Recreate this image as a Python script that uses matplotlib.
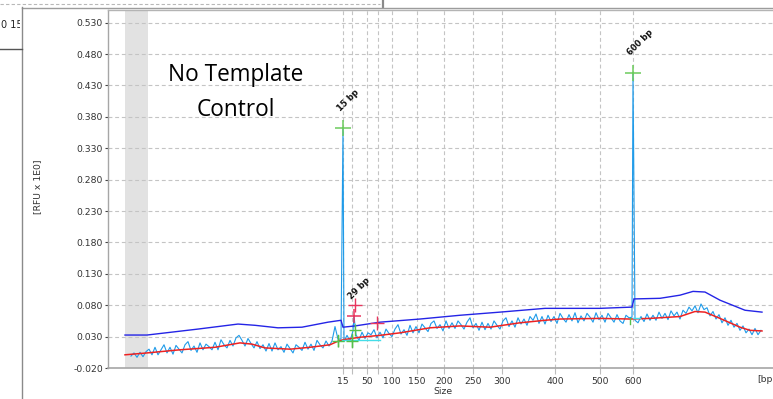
import matplotlib
matplotlib.use("Agg")
import matplotlib.pyplot as plt
import numpy as np
from matplotlib.lines import Line2D
from matplotlib.transforms import Bbox, TransformedBbox

# ---------------- data ----------------
# migration-time axis (arbitrary units); sizes are nonlinear labels on it
size_ticks = [15, 25, 50, 75, 100, 150, 200, 250, 300, 400, 500, 600]
size_tick_times = [235, 244, 259, 270, 284, 309, 336, 365, 394, 447, 492, 525]
size_tick_labels = ["15", "", "50", "", "100", "150", "200", "250", "300", "400", "500", "600"]

y_ticks = [-0.020, 0.030, 0.080, 0.130, 0.180, 0.230, 0.280, 0.330, 0.380, 0.430, 0.480, 0.530]

# raw signal (RFU), sampled every 3 time units starting at t = 23
signal_start = 23
signal_step = 3
signal_values = [
    -0.001, 0.004, -0.003, 0.005, -0.002, 0.006, 0.010, 0.001, 0.013, 0.001,
    0.009, 0.017, 0.004, 0.013, 0.002, 0.016, 0.010, 0.004, 0.017, 0.022,
    0.008, 0.015, 0.005, 0.020, 0.009, 0.018, 0.014, 0.009, 0.021, 0.009,
    0.025, 0.017, 0.012, 0.024, 0.015, 0.028, 0.032, 0.024, 0.015, 0.027,
    0.019, 0.012, 0.022, 0.011, 0.017, 0.007, 0.019, 0.007, 0.020, 0.009,
    0.014, 0.005, 0.018, 0.011, 0.004, 0.017, 0.013, 0.008, 0.021, 0.010,
    0.018, 0.008, 0.024, 0.017, 0.012, 0.023, 0.015, 0.023, 0.046, 0.026,
    0.026, 0.022, 0.032, 0.023, 0.039, 0.033, 0.024, 0.037, 0.027, 0.036,
    0.033, 0.041, 0.028, 0.037, 0.028, 0.042, 0.035, 0.030, 0.042, 0.049,
    0.034, 0.041, 0.032, 0.048, 0.036, 0.046, 0.036, 0.050, 0.044, 0.038,
    0.051, 0.055, 0.043, 0.049, 0.039, 0.055, 0.043, 0.052, 0.043, 0.055,
    0.049, 0.042, 0.053, 0.060, 0.044, 0.051, 0.040, 0.053, 0.041, 0.051,
    0.042, 0.055, 0.048, 0.042, 0.055, 0.060, 0.046, 0.055, 0.045, 0.060,
    0.050, 0.058, 0.048, 0.062, 0.056, 0.066, 0.051, 0.062, 0.050, 0.064,
    0.054, 0.062, 0.051, 0.067, 0.059, 0.053, 0.065, 0.055, 0.068, 0.052,
    0.063, 0.055, 0.067, 0.061, 0.053, 0.068, 0.057, 0.064, 0.053, 0.067,
    0.060, 0.053, 0.065, 0.055, 0.051, 0.064, 0.060, 0.061, 0.056, 0.052,
    0.062, 0.054, 0.066, 0.056, 0.064, 0.056, 0.069, 0.059, 0.067, 0.057,
    0.071, 0.063, 0.069, 0.058, 0.072, 0.067, 0.077, 0.071, 0.079, 0.068,
    0.082, 0.073, 0.076, 0.063, 0.070, 0.058, 0.065, 0.052, 0.060, 0.048,
    0.056, 0.045, 0.051, 0.040, 0.047, 0.036, 0.042, 0.033, 0.043, 0.033,
    0.040,
]

# called peaks
peak_labels = ["15 bp", "29 bp", "600 bp"]
peak_times = [235, 246, 525]
peak_heights = [0.362, 0.063, 0.4505]
peak_marker_colors = ["#6ccc5c", "#e8365e", "#6ccc5c"]

# other peak markers
minor_red_times = [247, 269]
minor_red_heights = [0.080, 0.0515]
minor_green_times = [230, 244, 247]
minor_green_heights = [0.023, 0.023, 0.040]

# smoothed baseline (red)
baseline_times = [17, 39, 72, 107, 132, 144, 157, 182, 202, 222, 229, 235, 252, 272,
                  292, 322, 352, 382, 412, 437, 452, 492, 522, 542, 572, 587, 597,
                  612, 632, 642, 654]
baseline_values = [0.001, 0.004, 0.009, 0.013, 0.020, 0.018, 0.012, 0.010, 0.013, 0.017,
                   0.022, 0.025, 0.029, 0.032, 0.036, 0.044, 0.047, 0.045, 0.052, 0.056,
                   0.058, 0.059, 0.058, 0.059, 0.062, 0.070, 0.069, 0.059, 0.045, 0.040,
                   0.039]

# detection threshold (dark blue)
threshold_times = [17, 39, 90, 130, 147, 170, 194, 220, 233, 235, 247, 272, 312, 352,
                   392, 437, 492, 524, 526, 552, 572, 585, 597, 612, 637, 654]
threshold_values = [0.0325, 0.0325, 0.042, 0.050, 0.048, 0.044, 0.045, 0.053, 0.056, 0.045,
                    0.047, 0.053, 0.058, 0.064, 0.069, 0.075, 0.075, 0.077, 0.090, 0.091,
                    0.096, 0.102, 0.101, 0.088, 0.072, 0.069]

# peak baselines (cyan) and boundaries (green)
cyan_segments = [((234, 272), (0.0245, 0.0245)), ((525, 532), (0.059, 0.059))]
green_segments = [((230, 230), (0.015, 0.032)), ((244, 244), (0.013, 0.034)),
                  ((522, 522), (0.050, 0.059))]

excluded_range = (17, 40)

# ---------------- figure ----------------
W, H = 773, 399
fig = plt.figure(figsize=(W / 100, H / 100), dpi=100)
ax = fig.add_axes([108 / W, 31 / H, 665 / W, 358 / H])

ax.set_xlim(0, 665)
ax.set_ylim(-0.020, 0.5502)

ax.axvspan(*excluded_range, color="#e2e2e2", lw=0, zorder=0)

grid_kw = dict(color="#c4c4c4", lw=0.8, ls=(0, (3.5, 2.5)), zorder=0.5)
for t in size_tick_times:
    ax.axvline(t, **grid_kw)
for yv in y_ticks[1:]:
    ax.axhline(yv, **grid_kw)

# signal with peaks merged
sig_t = signal_start + signal_step * np.arange(len(signal_values))
all_t = np.concatenate([sig_t, peak_times])
all_v = np.concatenate([signal_values, peak_heights])
order = np.argsort(all_t, kind="stable")
ax.plot(all_t[order], all_v[order], color="#1f9be9", lw=0.8, zorder=3)

ax.plot(baseline_times, baseline_values, color="#ee2222", lw=1.1, zorder=4)
ax.plot(threshold_times, threshold_values, color="#2424e6", lw=1.0, zorder=4)

for (xs, ys) in cyan_segments:
    ax.plot(xs, ys, color="#44dde8", lw=1.0, zorder=4)
for (xs, ys) in green_segments:
    ax.plot(xs, ys, color="#55c04a", lw=1.0, zorder=4)

ax.plot(minor_green_times, minor_green_heights, ls="none", marker="+", ms=9,
        mew=1.0, color="#55c04a", zorder=5)
ax.plot(minor_red_times, minor_red_heights, ls="none", marker="+", ms=10,
        mew=1.0, color="#e8365e", zorder=5)

for lab, t, h, c in zip(peak_labels, peak_times, peak_heights, peak_marker_colors):
    ax.plot([t], [h], ls="none", marker="+", ms=11 if c != "#e8365e" else 10,
            mew=1.1, color=c, zorder=6)
    ax.annotate(lab, xy=(t, h), xytext=(-0.5, 11.0), textcoords="offset points",
                rotation=45, rotation_mode="anchor", ha="left", va="bottom",
                fontsize=6.0, fontweight="bold", color="#111111", zorder=7)

ax.text(0.1925, 0.770, "No Template\nControl", transform=ax.transAxes,
        ha="center", va="center", fontsize=16.3, family="Open Sans",
        linespacing=1.62, color="black")

# axes styling
ax.set_xticks(size_tick_times)
ax.set_xticklabels(size_tick_labels)
ax.set_yticks(y_ticks)
ax.set_yticklabels([f"{v:.3f}" for v in y_ticks])
ax.tick_params(axis="x", length=4.3, width=0.8, color="#bdbdbd", pad=2,
               labelsize=6.7, labelcolor="#333333")
ax.tick_params(axis="y", length=2.2, width=0.8, color="#444444", pad=1.5,
               labelsize=6.7, labelcolor="#333333")
ax.spines["right"].set_visible(False)
ax.spines["left"].set_color("#a6a6a6")
ax.spines["bottom"].set_color("#a6a6a6")
ax.spines["top"].set_color("#b4b4b4")
ax.spines["left"].set_linewidth(1.0)
ax.spines["bottom"].set_linewidth(1.2)
ax.spines["top"].set_linewidth(1.0)

fig.text(443 / W, 1 - 392 / H, "Size", ha="center", va="center", fontsize=6.7,
         color="#333333")
fig.text(757 / W, 1 - 380 / H, "[bp]", ha="left", va="center", fontsize=6.7,
         color="#333333")
fig.text(38 / W, 1 - 187 / H, "[RFU x 1E0]", rotation=90, ha="center", va="center",
         fontsize=6.7, color="#333333")

# surrounding window chrome
def fline(xs, ys, **kw):
    fig.add_artist(Line2D([x / W for x in xs], [1 - y / H for y in ys], **kw))

fline([0, 380], [4, 4], color="#b8b8b8", lw=0.8, ls=(0, (3, 2)))
fline([383, 383], [0, 7], color="#8a8a8a", lw=1.6)
fline([22, 773], [7.5, 7.5], color="#9c9c9c", lw=1.0)
fline([22, 22], [7, 399], color="#8a8a8a", lw=1.0)
fline([0, 22], [49, 49], color="#555555", lw=1.0)
txt = fig.text(1 / W, 1 - 25 / H, "0 15", ha="left", va="center", fontsize=7,
               color="#222222")
txt.set_clip_box(TransformedBbox(Bbox([[0, 0], [20 / W, 1]]), fig.transFigure))
txt.set_clip_on(True)

fig.savefig("out.png", dpi=100)
